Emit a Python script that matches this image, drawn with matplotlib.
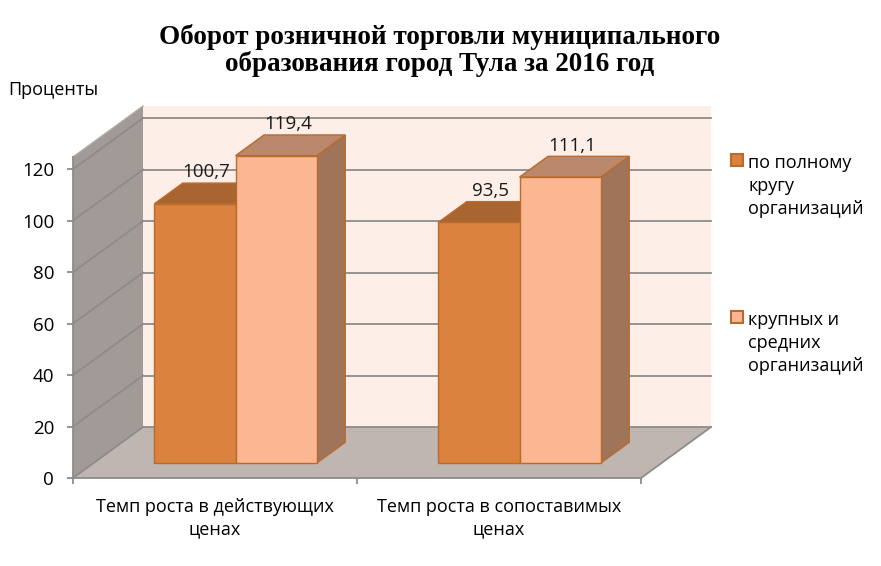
import matplotlib.pyplot as plt
from matplotlib.patches import Polygon, Rectangle

plt.rcParams['font.family'] = ['Open Sans', 'DejaVu Sans']

# данные
categories = ["Темп роста в действующих\nценах", "Темп роста в сопоставимых\nценах"]
series_names = ["по полному\nкругу\nорганизаций", "крупных и\nсредних\nорганизаций"]
full_circle = [100.7, 93.5]
large_medium = [119.4, 111.1]
yticks = [0, 20, 40, 60, 80, 100, 120]

# цвета: лицевая грань, верх, бок
face_cols = ['#DA823E', '#FAB792']
top_cols = ['#A86530', '#BB886C']
side_cols = ['#A06E45', '#A07458']
edge_col = '#B96A2E'

YMAX = 124.7
DX, DY = 0.2465, 19.8     # смещение глубины (ось x в категориях, y в процентах)
D_FRONT, D_BACK = 0.294, 0.70
BAR_W = 0.286

fig = plt.figure(figsize=(8.81, 5.66), dpi=100)
ax = fig.add_axes([73 / 881, 88 / 566, 568 / 881, 321 / 566])
ax.set_xlim(0, 2)
ax.set_ylim(0, YMAX)


def proj(x, v, d):
    return (x + d * DX, v + d * DY)


def poly(pts, fc, ec='none', lw=0, z=1):
    ax.add_patch(Polygon(pts, closed=True, facecolor=fc, edgecolor=ec,
                         linewidth=lw, clip_on=False, zorder=z))


# стены и пол
poly([proj(0, 0, 1), proj(2, 0, 1), proj(2, YMAX, 1), proj(0, YMAX, 1)], '#FDEEE8', z=0.5)
poly([proj(0, 0, 0), proj(0, 0, 1), proj(0, YMAX, 1), proj(0, YMAX, 0)], '#A19A96', z=0.6)
poly([proj(0, 0, 0), proj(2, 0, 0), proj(2, 0, 1), proj(0, 0, 1)], '#BFB5B1', z=0.6)

grid_col = '#8C8C8C'
for v in yticks:
    a, b = proj(0, v, 1), proj(2, v, 1)
    ax.plot([a[0], b[0]], [a[1], b[1]], color=grid_col, lw=1.3, clip_on=False, zorder=0.8)
    c = proj(0, v, 0)
    ax.plot([c[0], a[0]], [c[1], a[1]], color=grid_col, lw=1.3, clip_on=False, zorder=0.8)
a, b = proj(2, 0, 0), proj(2, 0, 1)
ax.plot([a[0], b[0]], [a[1], b[1]], color=grid_col, lw=1.3, clip_on=False, zorder=0.8)
a, b = proj(0, YMAX, 0), proj(0, YMAX, 1)
ax.plot([a[0], b[0]], [a[1], b[1]], color='#B0AAA6', lw=1, clip_on=False, zorder=0.8)

# столбики
for i in range(len(categories)):
    for s, vals in enumerate([full_circle, large_medium]):
        h = vals[i]
        x0 = i + 0.5 - BAR_W + s * BAR_W
        x1 = x0 + BAR_W
        front = [proj(x0, 0, D_FRONT), proj(x1, 0, D_FRONT), proj(x1, h, D_FRONT), proj(x0, h, D_FRONT)]
        top = [proj(x0, h, D_FRONT), proj(x1, h, D_FRONT), proj(x1, h, D_BACK), proj(x0, h, D_BACK)]
        side = [proj(x1, 0, D_FRONT), proj(x1, 0, D_BACK), proj(x1, h, D_BACK), proj(x1, h, D_FRONT)]
        z = 2 + s
        poly(side, side_cols[s], edge_col, 1.0, z)
        poly(top, top_cols[s], edge_col, 1.0, z)
        poly(front, face_cols[s], edge_col, 1.0, z)
        lx, ly = proj((x0 + x1) / 2, h, 0.5)
        ax.annotate(f"{h:.1f}".replace('.', ','), (lx, ly), xytext=(-2, 15),
                    textcoords='offset points', ha='center', va='center',
                    fontsize=13.5, color='#1a1a1a', zorder=5, annotation_clip=False)

# оси
for sp in ['top', 'right']:
    ax.spines[sp].set_visible(False)
for sp in ['left', 'bottom']:
    ax.spines[sp].set_color(grid_col)
    ax.spines[sp].set_linewidth(1.3)
    ax.spines[sp].set_zorder(1)
ax.set_facecolor('none')
ax.set_yticks(yticks)
ax.set_yticklabels([str(t) for t in yticks])
ax.set_xticks([0, 1, 2])
ax.set_xticklabels([])
ax.set_xticks([0.5, 1.5], minor=True)
ax.set_xticklabels(categories, minor=True, linespacing=1.33)
ax.tick_params(axis='both', which='major', direction='out', length=4.5, color=grid_col,
               width=1.3, labelsize=13.5, pad=9)
ax.tick_params(axis='x', which='minor', length=0, labelsize=13, pad=14.5)

fig.text(8 / 881, 1 - 90 / 566, "Проценты", fontsize=13, va='center', ha='left')

title_lines = ["Оборот розничной торговли муниципального",
               "образования город Тула за 2016 год"]
for line, yb in zip(title_lines, [44, 71]):
    fig.text(440 / 881, 1 - yb / 566, line, fontsize=19.5, fontweight='bold',
             family=['Liberation Serif'], ha='center', va='baseline')

# легенда
leg_y = [186, 343]
for s, name in enumerate(series_names):
    fig.patches.append(Rectangle((731 / 881, 1 - 166 / 566 - (leg_y[s] - 186) / 566), 12 / 881, 12 / 566,
                                 transform=fig.transFigure, facecolor=face_cols[s],
                                 edgecolor=edge_col, linewidth=1.5))
    fig.text(748 / 881, 1 - leg_y[s] / 566, name, fontsize=13, va='center', ha='left',
             linespacing=1.36)

fig.savefig('out.png', dpi=100, facecolor='white')
